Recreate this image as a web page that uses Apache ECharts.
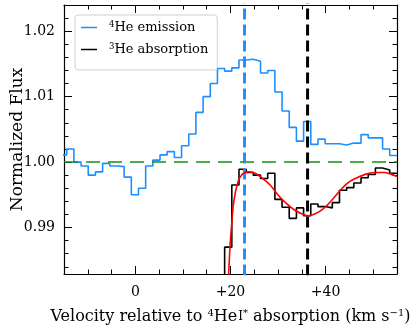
<!DOCTYPE html>
<html>
<head>
<meta charset="utf-8">
<script src="https://cdn.jsdelivr.net/npm/echarts@6/dist/echarts.min.js"></script>
<style>
  html, body { margin: 0; padding: 0; background: #fff; }
  #chart { width: 415px; height: 328px; }
</style>
</head>
<body>
<div id="chart"></div>
<script>
// velocity grid of the spectra (km/s): first bin left edge and bin width
const binStart = -15.94;
const binWidth = 1.509;

// 4He emission, one value per bin starting at binStart
const heEmission = [
  1.0011, 1.0020, 1.0000, 0.9994, 0.9980, 0.9985, 0.9998, 0.9994, 0.9993, 0.9977,
  0.9950, 0.9960, 0.9994, 1.0003, 1.0011, 1.0016, 1.0007, 1.0025, 1.0043, 1.0076,
  1.0100, 1.0120, 1.0143, 1.0139, 1.0144, 1.0156, 1.0157, 1.0154, 1.0136, 1.0140,
  1.0107, 1.0078, 1.0053, 1.0032, 1.0062, 1.0027, 1.0035, 1.0028, 1.0028, 1.0026,
  1.0029, 1.0029, 1.0042, 1.0037, 1.0037, 1.0020, 1.0010
];

// 3He absorption, starts at bin index 22 (first value is below the plotted range)
const absStartBin = 22;
const heAbsorption = [
  0.9750, 0.9870, 0.9965, 0.9989, 0.9984, 0.9980, 0.9975, 0.9983, 0.9943, 0.9931,
  0.9914, 0.9930, 0.9918, 0.9936, 0.9932, 0.9930, 0.9938, 0.9957, 0.9961, 0.9968,
  0.9976, 0.9981, 0.9991, 0.9988, 0.9983
];

// model fit (red)
const modelVel = [19.2, 19.6, 19.93, 20.28, 20.56, 20.98, 21.33, 21.67, 22.03, 22.72, 23.78,
  25.18, 26.60, 28.34, 30.09, 31.85, 33.60, 35.35, 36.40, 37.81, 39.55, 41.32, 43.07,
  44.81, 46.58, 48.69, 50.79, 52.18, 53.59, 55.0];
const modelFlux = [0.9790, 0.9830, 0.9875, 0.9908, 0.9932, 0.9952, 0.9963, 0.9972, 0.9977, 0.9983, 0.9985,
  0.9983, 0.9976, 0.9965, 0.9949, 0.9936, 0.9926, 0.9920, 0.9918, 0.9921, 0.9929, 0.9942, 0.9957,
  0.9969, 0.9976, 0.9982, 0.9984, 0.9984, 0.9982, 0.9978];

const emissionLine = 22.95;   // 4He I* absorption marker
const absorptionLine = 36.2;  // 3He marker
const continuum = 1.0;

const xMajor = [0, 20, 40];
const xMinor = [-10, -5, 5, 10, 15, 25, 30, 35, 45, 50];
const yMajor = [0.99, 1.00, 1.01, 1.02];
const yMinor = [0.984, 0.986, 0.988, 0.992, 0.994, 0.996, 0.998, 1.002, 1.004, 1.006, 1.008,
  1.012, 1.014, 1.016, 1.018, 1.022];

const xMin = -15, xMax = 55, yMin = 0.9829, yMax = 1.0240;
const FONT = 'DejaVu Serif';

function stepData(startBin, values) {
  const pts = values.map((v, i) => [binStart + (startBin + i) * binWidth, v]);
  pts.push([binStart + (startBin + values.length) * binWidth, values[values.length - 1]]);
  return pts;
}

const chart = echarts.init(document.getElementById('chart'), null, { renderer: 'canvas' });

function xAxisDef(position, ticks, len, labels, line) {
  return {
    type: 'value', gridIndex: 0, position: position, min: xMin, max: xMax,
    axisLine: { show: line, onZero: false, lineStyle: { color: '#000', width: 1.2 } }, splitLine: { show: false },
    axisTick: { show: true, inside: true, length: len, customValues: ticks, lineStyle: { color: '#000', width: 1 } },
    axisLabel: labels ? {
      show: true, customValues: ticks, margin: 11, color: '#000', fontFamily: FONT, fontSize: 14,
      formatter: v => (v > 0 ? '+' + v : '' + v)
    } : { show: false }
  };
}
function yAxisDef(position, ticks, len, labels, line) {
  return {
    type: 'value', gridIndex: 0, position: position, min: yMin, max: yMax,
    axisLine: { show: line, onZero: false, lineStyle: { color: '#000', width: 1.2 } }, splitLine: { show: false },
    axisTick: { show: true, inside: true, length: len, customValues: ticks, lineStyle: { color: '#000', width: 1 } },
    axisLabel: labels ? {
      show: true, customValues: ticks, margin: 9, color: '#000', fontFamily: FONT, fontSize: 14,
      formatter: v => v.toFixed(2)
    } : { show: false }
  };
}

const xAxes = [
  xAxisDef('bottom', xMajor, 8, true, true),
  xAxisDef('bottom', xMinor, 4.5, false, false),
  xAxisDef('top', xMajor, 8, false, true),
  xAxisDef('top', xMinor, 4.5, false, false)
];
Object.assign(xAxes[0], {
  name: 'Velocity relative to {sup|4}He{sc|I}{sup|*} absorption (km s{sup|\u22121})',
  nameLocation: 'middle', nameGap: 33, nameMoveOverlap: false,
  nameTextStyle: {
    fontFamily: FONT, fontSize: 16, lineHeight: 19, color: '#000',
    rich: {
      sup: { fontFamily: FONT, fontSize: 10, lineHeight: 10, verticalAlign: 'bottom', padding: [0, 0, 8, 0], color: '#000' },
      sc: { fontFamily: FONT, fontSize: 12, lineHeight: 12, color: '#000', verticalAlign: 'bottom', padding: [0, 0, 3, 1] }
    }
  }
});
const yAxes = [
  yAxisDef('left', yMajor, 8, true, true),
  yAxisDef('left', yMinor, 4.5, false, false),
  yAxisDef('right', yMajor, 8, false, true),
  yAxisDef('right', yMinor, 4.5, false, false)
];
Object.assign(yAxes[0], {
  name: 'Normalized Flux', nameLocation: 'middle', nameGap: 38, nameMoveOverlap: false,
  nameTextStyle: { fontFamily: FONT, fontSize: 17, color: '#000' }
});

function vLine(x, color) {
  return {
    type: 'line', silent: true, symbol: 'none', z: 4,
    data: [[x, yMin - 0.01], [x, yMax + 0.01]],
    lineStyle: { color: color, width: 3, type: [11, 5] }
  };
}

const option = {
  animation: false,
  backgroundColor: '#fff',
  grid: { left: 64, right: 18, top: 5, bottom: 54, outerBoundsMode: 'none' },
  legend: {
    data: ['4He emission', '3He absorption'],
    orient: 'vertical', left: 75, top: 15,
    padding: [5, 9, 12, 6], itemGap: 6,
    icon: 'rect', itemWidth: 16, itemHeight: 1.5,
    backgroundColor: 'rgba(255,255,255,0.85)', borderColor: '#d0d0d0', borderWidth: 1, borderRadius: 3,
    formatter: name => name === '4He emission' ? '{sup|4}{t|He emission}' : '{sup|3}{t|He absorption}',
    textStyle: {
      fontFamily: FONT, fontSize: 13, color: '#000', padding: [0, 0, 0, 7],
      rich: { sup: { fontFamily: FONT, fontSize: 8.5, lineHeight: 9, verticalAlign: 'bottom', padding: [0, 0, 7, 0], color: '#000' },
              t: { fontFamily: FONT, fontSize: 13, lineHeight: 17, color: '#000' } }
    }
  },
  xAxis: xAxes,
  yAxis: yAxes,
  series: [
    {
      name: '4He emission', type: 'line', step: 'end', symbol: 'none', z: 2,
      data: stepData(0, heEmission),
      lineStyle: { color: '#1e8fff', width: 1.6 }, itemStyle: { color: '#1e8fff' }
    },
    {
      name: '3He absorption', type: 'line', step: 'end', symbol: 'none', z: 3,
      data: stepData(absStartBin, heAbsorption),
      lineStyle: { color: '#000', width: 1.6 }, itemStyle: { color: '#000' }
    },
    {
      name: 'model', type: 'line', smooth: 0.3, symbol: 'none', z: 5,
      data: modelVel.map((v, i) => [v, modelFlux[i]]),
      lineStyle: { color: '#ff0000', width: 1.6 }
    },
    {
      name: 'continuum', type: 'line', silent: true, symbol: 'none', z: 4,
      data: [[xMin, continuum], [xMax, continuum]],
      lineStyle: { color: '#159015', width: 1.5, type: [14, 8] }
    },
    vLine(emissionLine, '#1e8fff'),
    vLine(absorptionLine, '#000')
  ]
};

chart.setOption(option);
</script>
</body>
</html>
